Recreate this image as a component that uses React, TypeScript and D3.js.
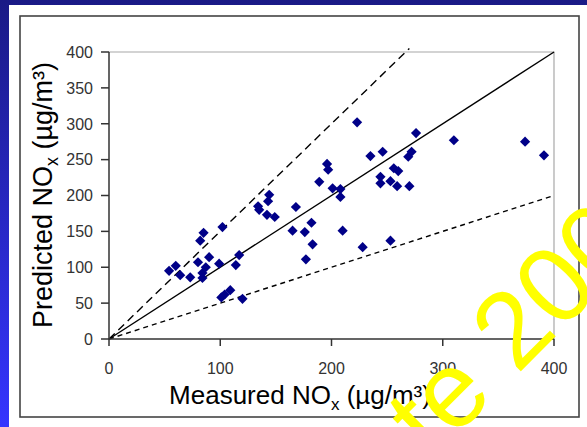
import React from "react";
import * as d3 from "d3";

const measured = [
  54, 60, 64, 73, 80, 82, 85, 102, 87, 84, 84, 90, 99, 114, 117, 101, 109, 104, 120,
  134, 135, 142, 143, 144, 149, 168, 165, 176, 182, 183, 177, 210, 228, 253,
  196, 197, 189, 201, 208, 208, 223, 235, 246, 244, 244, 253, 256, 260, 259, 270,
  269, 272, 276, 310, 374, 391,
];
const predicted = [
  95, 102, 89, 86, 107, 137, 148, 156, 100, 92, 85, 114, 105, 103, 117, 58, 68, 62, 56,
  185, 180, 173, 192, 201, 170, 184, 151, 149, 162, 132, 111, 151, 128, 137,
  244, 236, 219, 210, 209, 198, 302, 255, 261, 226, 217, 220, 238, 234, 213, 213,
  254, 261, 287, 277, 275, 256,
];

const xTicks = [0, 100, 200, 300, 400];
const yTicks = [0, 50, 100, 150, 200, 250, 300, 350, 400];

// reference lines y = k * x
const ratioLines = [
  { k: 1, xEnd: 400, dash: null },
  { k: 1.5, xEnd: 270, dash: "8,5" },
  { k: 0.5, xEnd: 400, dash: "5,4" },
];

const font = "'Liberation Sans', Arial, sans-serif";

export default function App() {
  const width = 587;
  const height = 427;

  const x = d3.scaleLinear().domain([0, 400]).range([109, 554]);
  const y = d3.scaleLinear().domain([0, 400]).range([339, 52]);

  const line = d3
    .line<number>()
    .x((d) => x(d))
    .y((d) => y(d));

  const diamond = d3.symbol().type(d3.symbolSquare).size(52)();

  return (
    <svg
      width={width}
      height={height}
      style={{ position: "absolute", left: 0, top: 0, display: "block" }}
    >
      <defs>
        <linearGradient id="bg" x1="0" y1="0" x2="0" y2="1">
          <stop offset="0" stopColor="#1a1a86" />
          <stop offset="1" stopColor="#3535ff" />
        </linearGradient>
      </defs>
      <rect width={width} height={height} fill="url(#bg)" />
      <rect x={9} y={5} width={width - 9} height={height - 5} fill="#fff" />
      <rect x={20} y={16} width={559} height={401} fill="none" stroke="#444" strokeWidth={1.6} />

      {/* plot frame */}
      <path
        d={`M${x(0)},${y(400)}H${x(400)}V${y(0)}`}
        fill="none"
        stroke="#a8a8a8"
        strokeWidth={1.2}
      />

      {/* reference lines */}
      {ratioLines.map((l, i) => (
        <path
          key={i}
          d={line.y((d) => y(d * l.k))([0, l.xEnd]) || ""}
          fill="none"
          stroke="#000"
          strokeWidth={1.4}
          strokeDasharray={l.dash || undefined}
        />
      ))}

      {/* points */}
      {measured.map((m, i) => (
        <path
          key={i}
          d={diamond || ""}
          transform={`translate(${x(m)},${y(predicted[i])}) rotate(45)`}
          fill="#000088"
        />
      ))}

      {/* axes */}
      <path d={`M${x(0)},${y(400)}V${y(0)}H${x(400)}`} fill="none" stroke="#333" strokeWidth={1.5} />
      {yTicks.map((t) => (
        <g key={t}>
          <line x1={101} x2={x(0)} y1={y(t)} y2={y(t)} stroke="#333" strokeWidth={1.5} />
          <text
            x={93}
            y={y(t)}
            dy="0.36em"
            textAnchor="end"
            fontFamily={font}
            fontSize={16}
            fill="#333"
          >
            {t}
          </text>
        </g>
      ))}
      {xTicks.map((t) => (
        <g key={t}>
          <line x1={x(t)} x2={x(t)} y1={y(0)} y2={y(0) + 7} stroke="#333" strokeWidth={1.5} />
          <text x={x(t)} y={374} textAnchor="middle" fontFamily={font} fontSize={16} fill="#333">
            {t}
          </text>
        </g>
      ))}

      {/* axis titles */}
      <text x={300} y={404} textAnchor="middle" fontFamily={font} fontSize={26} fill="#000">
        Measured NO
        <tspan fontSize={17} dy={6}>x</tspan>
        <tspan dy={-6}> (µg/m³)</tspan>
      </text>
      <text
        transform="translate(52,195) rotate(-90)"
        textAnchor="middle"
        fontFamily={font}
        fontSize={27}
        fill="#000"
      >
        Predicted NO
        <tspan fontSize={18} dy={6}>x</tspan>
        <tspan dy={-6}> (µg/m³)</tspan>
      </text>

      {/* watermark */}
      <text
        transform="translate(432,460) rotate(-45)"
        fontFamily={font}
        fontSize={108}
        fill="#ffff00"
      >
        te 2005
      </text>
    </svg>
  );
}
